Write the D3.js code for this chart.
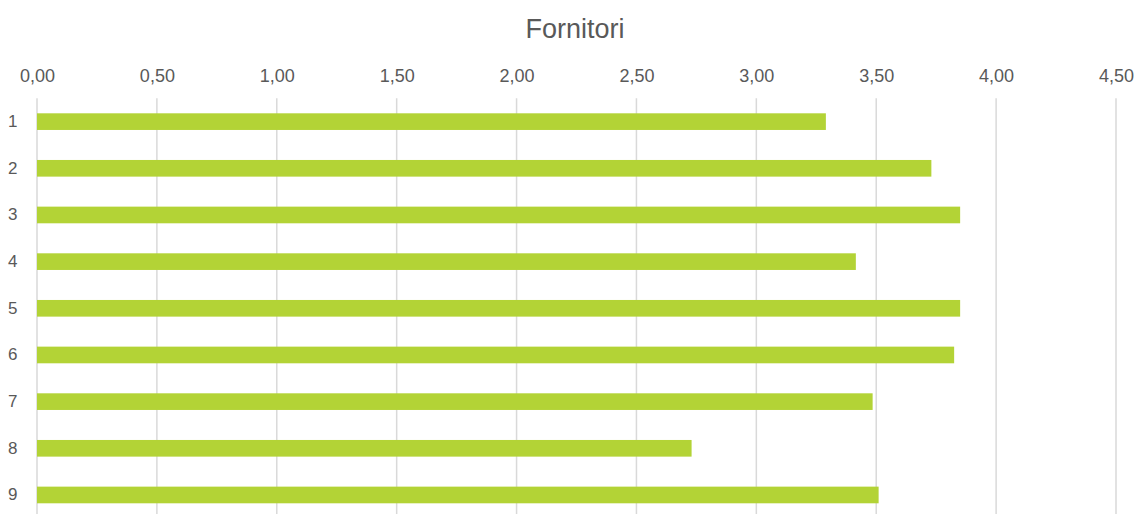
<!DOCTYPE html>
<html>
<head>
<meta charset="utf-8">
<script src="https://cdn.jsdelivr.net/npm/d3@7"></script>
<style>
    body { margin: 0; background: #fff; }
    text { font-family: "Liberation Sans", Arial, sans-serif; fill: #595959; }
</style>
</head>
<body>
<script>
"use strict";
(function(){
    // data
    const categories = ["1", "2", "3", "4", "5", "6", "7", "8", "9"]
    const values = [3.29, 3.73, 3.85, 3.415, 3.85, 3.825, 3.485, 2.73, 3.51]
    const tickValues = [0, 0.5, 1, 1.5, 2, 2.5, 3, 3.5, 4, 4.5]

    const measurements = {
        width: 1135,
        height: 514,
        left: 37,
        right: 1116,
        top: 98.3,
        bottom: 518.3
    }

    const svgContainer = d3.select('body').append("svg")
        .attr('width', measurements.width)
        .attr('height', measurements.height)

    let scaleX = d3.scaleLinear()
        .domain([0, 4.5])
        .range([measurements.left, measurements.right])

    let scaleY = d3.scaleBand()
        .domain(categories)
        .range([measurements.top, measurements.bottom])
        .paddingInner(0.643)
        .paddingOuter(0.3215)

    // title
    svgContainer.append('text')
        .attr('x', 575)
        .attr('y', 38)
        .attr('text-anchor', 'middle')
        .style('font-size', '27px')
        .text("Fornitori")

    // gridlines
    svgContainer.selectAll(".grid")
        .data(tickValues)
        .enter()
        .append('line')
        .attr('class', 'grid')
        .attr('x1', d => scaleX(d))
        .attr('x2', d => scaleX(d))
        .attr('y1', measurements.top)
        .attr('y2', measurements.height)
        .attr('stroke', '#d9d9d9')
        .attr('stroke-width', 1.5)

    // top axis labels
    const fmt = d => d3.format(".2f")(d).replace(".", ",")
    let xAxis = d3.axisTop(scaleX)
        .tickValues(tickValues)
        .tickFormat(fmt)
        .tickSize(0)
        .tickPadding(0)
    let gx = svgContainer.append('g')
        .attr('transform', 'translate(0,82)')
        .call(xAxis)
    gx.select('.domain').remove()
    gx.selectAll('text')
        .style('font-size', '18px')
        .attr('fill', '#595959')

    // category labels
    let yAxis = d3.axisLeft(scaleY)
        .tickSize(0)
        .tickPadding(20)
    let gy = svgContainer.append('g')
        .attr('transform', 'translate(' + measurements.left + ',0)')
        .call(yAxis)
    gy.select('.domain').remove()
    gy.selectAll('text')
        .style('font-size', '17px')
        .attr('fill', '#595959')
        .attr('text-anchor', 'start')
        .attr('x', -29)

    // bars
    svgContainer.selectAll(".bar")
        .data(values)
        .enter()
        .append('rect')
        .attr('class', 'bar')
        .attr('x', scaleX(0))
        .attr('y', (d, i) => scaleY(categories[i]))
        .attr('width', d => scaleX(d) - scaleX(0))
        .attr('height', scaleY.bandwidth())
        .attr('fill', '#b3d336')
})()
</script>
</body>
</html>
